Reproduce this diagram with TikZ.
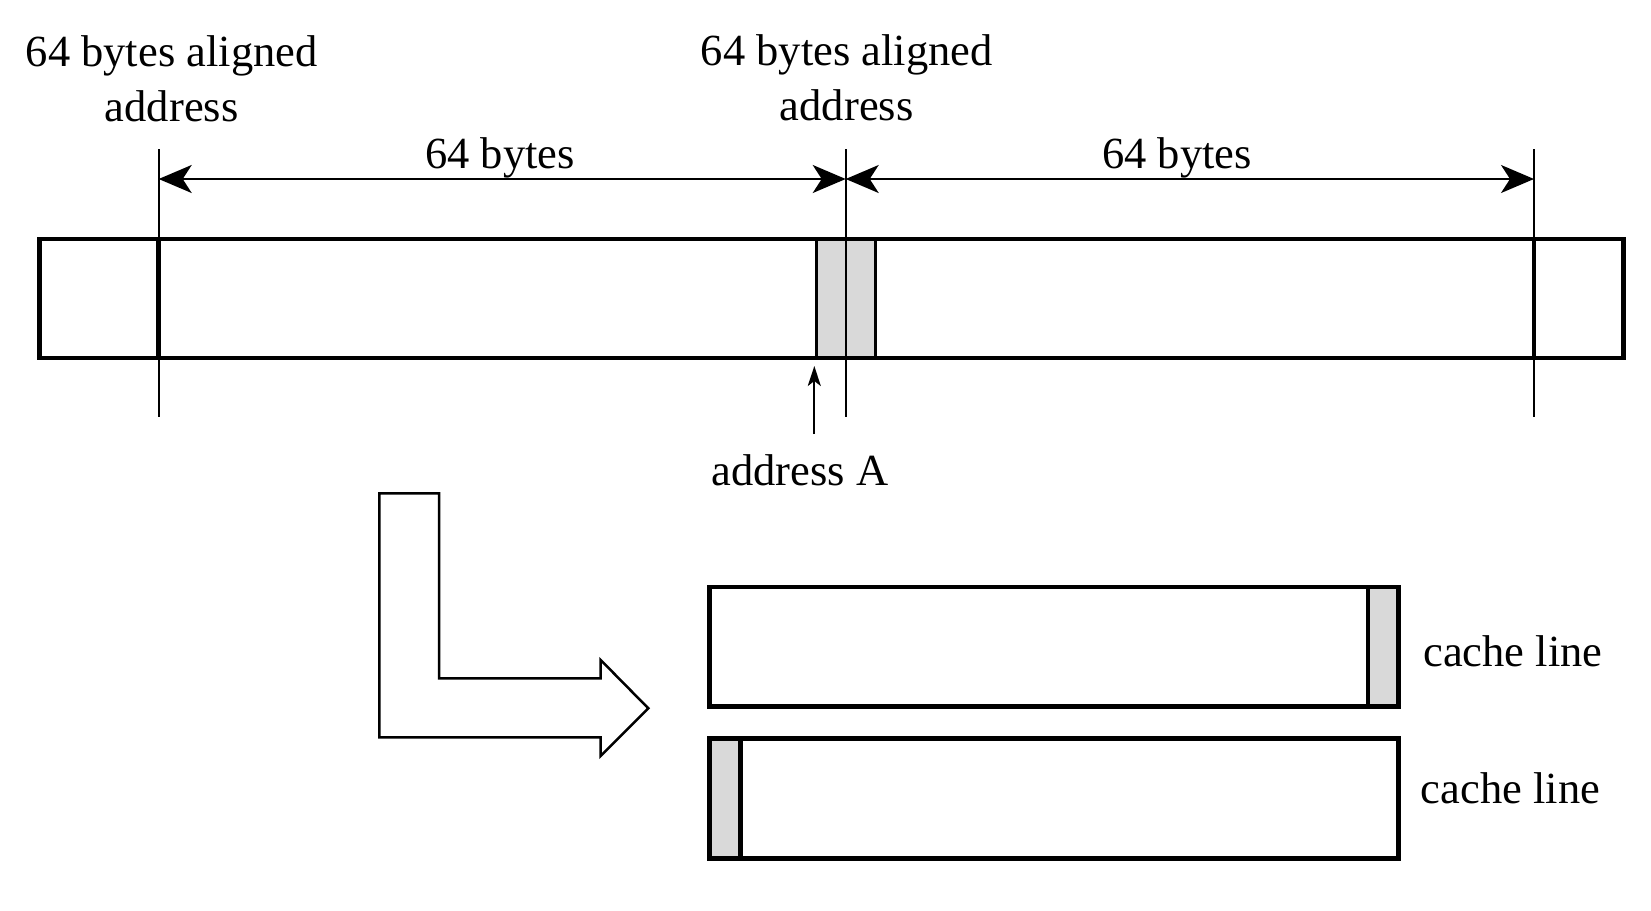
\documentclass[tikz,border=0pt]{standalone}
\usepackage{fontspec}
\setmainfont{Liberation Serif}
\usetikzlibrary{arrows.meta}
\definecolor{cellgray}{HTML}{D9D9D9}
\tikzset{
  lbl/.style={inner sep=0pt, anchor=base, font=\fontsize{44.5}{56}\selectfont},
  thickline/.style={line width=4.5pt},
  thinline/.style={line width=2pt},
  dimarrow/.style={line width=2pt, {Stealth[length=33pt,width=28pt,inset=9pt]}-{Stealth[length=33pt,width=28pt,inset=9pt]}},
  ptrarrow/.style={line width=2pt, -{Stealth[length=20pt,width=13pt,inset=5pt]}},
  graycell/.style={fill=cellgray, draw=black, line width=2.5pt},
  bentarrow/.style={draw=black, line width=2.5pt, fill=white, line join=miter}
}
\begin{document}
\begin{tikzpicture}[x=1pt,y=-1pt]
\useasboundingbox (0,0) rectangle (1651,910);
% key coordinates
\coordinate (Ltop) at (158.7,149);
\coordinate (Lbot) at (158.7,416.7);
\coordinate (Mtop) at (845.7,149);
\coordinate (Mbot) at (845.7,416.7);
\coordinate (Rtop) at (1534,149);
\coordinate (Rbot) at (1534,416.7);
\coordinate (Larr) at (158.7,179);
\coordinate (Marr) at (845.7,179);
\coordinate (Rarr) at (1534,179);
% main bar
\fill[cellgray] (816.7,239) rectangle (875.7,358);
\draw[line width=2.5pt] (816.7,239) -- (816.7,358) (875.7,239) -- (875.7,358);
\draw[thickline] (39.3,239) rectangle (1623.3,358);
\draw[thickline] (158.7,239) -- (158.7,358);
\draw[thickline] (1534,239) -- (1534,358);
% vertical guide lines
\draw[thinline] (Ltop) -- (Lbot);
\draw[thinline] (Mtop) -- (Mbot);
\draw[thinline] (Rtop) -- (Rbot);
% dimension arrows
\draw[dimarrow] (Larr) -- (Marr);
\draw[dimarrow] (Marr) -- (Rarr);
% labels
\node[lbl] (la1) at (171.7,66) {64 bytes aligned};
\node[lbl] (la2) at (171.7,121.7) {address};
\node[lbl] (ma1) at (846.7,65) {64 bytes aligned};
\node[lbl] (ma2) at (846.7,120) {address};
\node[lbl] (d1) at (500,168.3) {64 bytes};
\node[lbl] (d2) at (1177,168.3) {64 bytes};
\node[lbl] (addrA) at (800,485) {address A};
\coordinate (addrTail) at (814.3,434);
\coordinate (addrHead) at (814.3,366);
\draw[ptrarrow] (addrTail) -- (addrHead);
% bent arrow
\draw[bentarrow] (379.3,493.3) -- (439,493.3) -- (439,678.3) -- (600.7,678.3) -- (600.7,660)
  -- (648.3,708.3) -- (600.7,756) -- (600.7,737.3) -- (379.3,737.3) -- cycle;
% cache lines
\fill[cellgray] (1368,587) rectangle (1398.4,706.7);
\draw[thickline] (709.7,587) rectangle (1398.4,706.7);
\draw[thickline] (1368,587) -- (1368,706.7);
\fill[cellgray] (709.7,738.3) rectangle (740.3,858.3);
\draw[thickline] (709.7,738.3) rectangle (1398.4,858.3);
\draw[thickline] (740.3,738.3) -- (740.3,858.3);
\node[lbl] (c1) at (1513,666.7) {cache line};
\node[lbl] (c2) at (1510.5,803.3) {cache line};
\end{tikzpicture}
\end{document}
